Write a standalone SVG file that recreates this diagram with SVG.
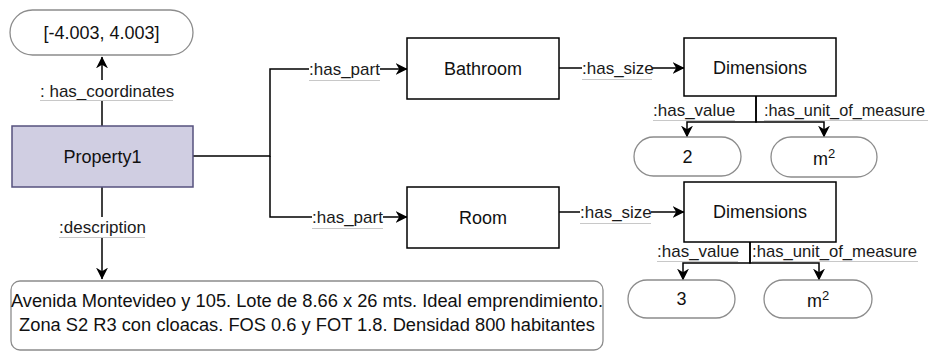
<svg xmlns="http://www.w3.org/2000/svg" width="930" height="352" viewBox="0 0 930 352">
  <style>
    .node { fill: #ffffff; stroke: #000000; stroke-width: 1.5; }
    .main { fill: #d0cee2; stroke: #56517e; stroke-width: 1.5; }
    .lit { fill: #ffffff; stroke: #8c8c8c; stroke-width: 1.3; }
    .txt { font-family: "Liberation Sans", Arial, sans-serif; font-size: 18px; fill: #111111; text-anchor: middle; }
    .lbl { font-family: "Liberation Sans", Arial, sans-serif; font-size: 17px; fill: #1a1a1a; }
    .unit { font-size: 16.3px; }
    .desc { font-family: "Liberation Sans", Arial, sans-serif; font-size: 18.3px; fill: #111111; text-anchor: middle; }
    .edge { fill: none; stroke: #000000; stroke-width: 1.5; }
    .uline { stroke: #c8c8c8; stroke-width: 1; }
    .lblbg { fill: #ffffff; }
  </style>
  <defs>
    <marker id="arrow" viewBox="0 0 10 10" refX="9.5" refY="5" markerWidth="12" markerHeight="12" markerUnits="userSpaceOnUse" orient="auto">
      <path d="M0,0 L10,5 L0,10 L3,5 z" fill="#000000"/>
    </marker>
  </defs>

  <!-- connectors -->
  <g id="connectors">
    <path class="edge" d="M102,126 V57" marker-end="url(#arrow)"/>
    <path class="edge" d="M102,187 V279" marker-end="url(#arrow)"/>
    <path class="edge" d="M193,156 H270 V69 H407" marker-end="url(#arrow)"/>
    <path class="edge" d="M270,156 V217 H407" marker-end="url(#arrow)"/>
    <path class="edge" d="M559,68 H684" marker-end="url(#arrow)"/>
    <path class="edge" d="M559,212 H684" marker-end="url(#arrow)"/>
    <path class="edge" d="M756,96 V122 H687 V137" marker-end="url(#arrow)"/>
    <path class="edge" d="M756,96 V122 H824 V137" marker-end="url(#arrow)"/>
    <path class="edge" d="M750,242 V263 H683 V280" marker-end="url(#arrow)"/>
    <path class="edge" d="M750,242 V263 H819 V280" marker-end="url(#arrow)"/>

    <!-- edge labels -->
    <g id="lbl-coordinates">
      <rect class="lblbg" x="40" y="80" width="133" height="20"/>
      <text class="lbl" x="40" y="97">: has_coordinates</text>
      <line class="uline" x1="40" y1="100.5" x2="173" y2="100.5"/>
    </g>
    <g id="lbl-description">
      <rect class="lblbg" x="59" y="217" width="86" height="20"/>
      <text class="lbl" x="59" y="233">:description</text>
      <line class="uline" x1="59" y1="237.5" x2="145" y2="237.5"/>
    </g>
    <g id="lbl-part1">
      <rect class="lblbg" x="309" y="60" width="71" height="20"/>
      <text class="lbl" x="309" y="75">:has_part</text>
      <line class="uline" x1="309" y1="80.5" x2="380" y2="80.5"/>
    </g>
    <g id="lbl-part2">
      <rect class="lblbg" x="312" y="208" width="71" height="20"/>
      <text class="lbl" x="312" y="223">:has_part</text>
      <line class="uline" x1="312" y1="228.5" x2="383" y2="228.5"/>
    </g>
    <g id="lbl-size1">
      <rect class="lblbg" x="582" y="59" width="70" height="20"/>
      <text class="lbl" x="582" y="74">:has_size</text>
      <line class="uline" x1="582" y1="79.5" x2="652" y2="79.5"/>
    </g>
    <g id="lbl-size2">
      <rect class="lblbg" x="580" y="203" width="71" height="20"/>
      <text class="lbl" x="580" y="218">:has_size</text>
      <line class="uline" x1="580" y1="223.5" x2="651" y2="223.5"/>
    </g>
    <g id="lbl-value1">
      <text class="lbl" x="653" y="116">:has_value</text>
      <line class="uline" x1="653" y1="120.5" x2="735" y2="120.5"/>
    </g>
    <g id="lbl-unit1">
      <text class="lbl unit" x="764" y="116">:has_unit_of_measure</text>
      <line class="uline" x1="764" y1="120.5" x2="928" y2="120.5"/>
    </g>
    <g id="lbl-value2">
      <text class="lbl" x="657" y="257">:has_value</text>
      <line class="uline" x1="657" y1="261.5" x2="738" y2="261.5"/>
    </g>
    <g id="lbl-unit2">
      <text class="lbl" x="752" y="257" textLength="165" lengthAdjust="spacingAndGlyphs">:has_unit_of_measure</text>
      <line class="uline" x1="752" y1="261.5" x2="918" y2="261.5"/>
    </g>
  </g>

  <!-- nodes -->
  <g id="coordinates">
    <rect class="lit" x="10" y="10" width="183" height="45" rx="22.5"/>
    <text class="txt" x="101.5" y="39">[-4.003, 4.003]</text>
  </g>
  <g id="property1">
    <rect class="main" x="12" y="126" width="181" height="61"/>
    <text class="txt" x="102.5" y="163">Property1</text>
  </g>
  <g id="bathroom">
    <rect class="node" x="407" y="38" width="152" height="61"/>
    <text class="txt" x="483" y="75">Bathroom</text>
  </g>
  <g id="room">
    <rect class="node" x="407" y="187" width="152" height="61"/>
    <text class="txt" x="483" y="224">Room</text>
  </g>
  <g id="dimensions1">
    <rect class="node" x="684" y="38" width="152" height="58"/>
    <text class="txt" x="760" y="74">Dimensions</text>
  </g>
  <g id="dimensions2">
    <rect class="node" x="684" y="182" width="152" height="60"/>
    <text class="txt" x="760" y="218">Dimensions</text>
  </g>
  <g id="value2">
    <rect class="lit" x="634" y="137" width="107" height="39" rx="19.5"/>
    <text class="txt" x="687.5" y="163">2</text>
  </g>
  <g id="unit1">
    <rect class="lit" x="771" y="137" width="106" height="40" rx="20"/>
    <text class="txt" x="824" y="165">m<tspan font-size="13" dy="-7">2</tspan></text>
  </g>
  <g id="value3">
    <rect class="lit" x="628" y="280" width="107" height="38" rx="19"/>
    <text class="txt" x="681.5" y="305">3</text>
  </g>
  <g id="unit2">
    <rect class="lit" x="764" y="280" width="108" height="38" rx="19"/>
    <text class="txt" x="818" y="307">m<tspan font-size="13" dy="-7">2</tspan></text>
  </g>
  <g id="description">
    <rect class="lit" x="11" y="281" width="592" height="69" rx="9"/>
    <text class="desc" x="307" y="307">Avenida Montevideo y 105. Lote de 8.66 x 26 mts. Ideal emprendimiento.</text>
    <text class="desc" x="307" y="331">Zona S2 R3 con cloacas. FOS 0.6 y FOT 1.8. Densidad 800 habitantes</text>
  </g>
</svg>
